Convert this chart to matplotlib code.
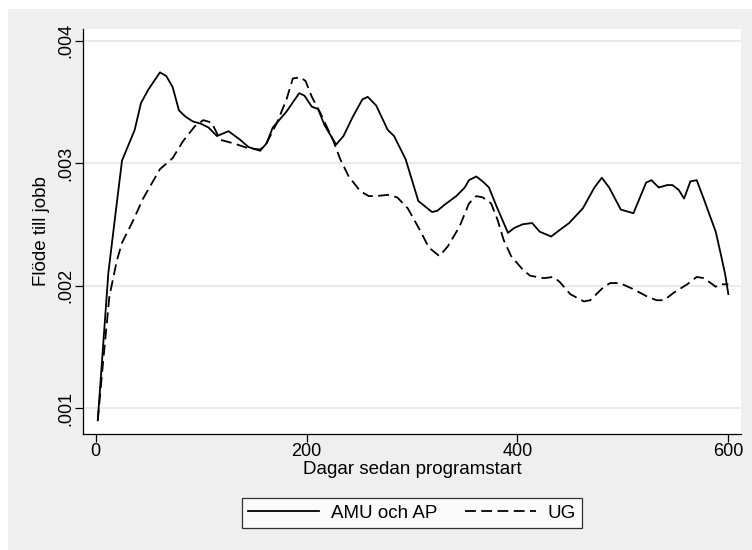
import matplotlib
matplotlib.use("Agg")
import matplotlib.pyplot as plt
from matplotlib.patches import Rectangle
from matplotlib.ticker import FixedLocator

plt.rcParams['font.family'] = ['Liberation Sans', 'DejaVu Sans']

# AMU och AP (solid)
amu_x = [2, 12, 20, 25, 37, 43, 50, 61, 67, 73, 79, 85, 92, 100, 107, 115, 126, 137,
         145, 156, 162, 168, 181, 193, 198, 205, 211, 217, 228, 235, 244, 253, 258,
         266, 277, 283, 294, 306, 319, 324, 331, 342, 350, 354, 361, 367, 373, 380,
         391, 397, 405, 414, 421, 432, 438, 449, 462, 473, 480, 487, 498, 510, 522,
         527, 534, 542, 547, 553, 558, 564, 570, 577, 588, 593, 597, 600]
amu_y = [0.00090, 0.00210, 0.00267, 0.00302, 0.00327, 0.00349, 0.00360, 0.00374,
         0.00371, 0.00362, 0.00343, 0.00338, 0.00334, 0.00332, 0.00329, 0.00322,
         0.00326, 0.00319, 0.00313, 0.00310, 0.00316, 0.00329, 0.00342, 0.00357,
         0.00355, 0.00346, 0.00344, 0.00331, 0.00315, 0.00322, 0.00338, 0.00352,
         0.00354, 0.00347, 0.00327, 0.00322, 0.00303, 0.00269, 0.00260, 0.00261,
         0.00266, 0.00273, 0.00280, 0.00286, 0.00289, 0.00285, 0.00280, 0.00265,
         0.00243, 0.00247, 0.00250, 0.00251, 0.00244, 0.00240, 0.00244, 0.00251,
         0.00263, 0.00280, 0.00288, 0.00280, 0.00262, 0.00259, 0.00284, 0.00286,
         0.00280, 0.00282, 0.00282, 0.00278, 0.00271, 0.00285, 0.00286, 0.00270,
         0.00244, 0.00225, 0.00209, 0.00193]

# UG (dashed)
ug_x = [2, 7, 13, 20, 25, 35, 45, 61, 73, 83, 94, 102, 110, 118, 131, 145, 156, 162,
        172, 181, 187, 194, 199, 205, 213, 225, 232, 240, 251, 259, 266, 277, 286,
        296, 307, 316, 326, 334, 345, 354, 361, 367, 375, 381, 387, 394, 405, 412,
        425, 434, 440, 450, 463, 469, 482, 488, 497, 510, 523, 532, 539, 548, 561,
        570, 577, 588, 592, 600]
ug_y = [0.00090, 0.00137, 0.00191, 0.00220, 0.00235, 0.00252, 0.00271, 0.00295,
        0.00304, 0.00318, 0.00330, 0.00335, 0.00333, 0.00319, 0.00316, 0.00312,
        0.00311, 0.00316, 0.00333, 0.00352, 0.00369, 0.00370, 0.00367, 0.00354,
        0.00341, 0.00319, 0.00303, 0.00289, 0.00277, 0.00273, 0.00273, 0.00274,
        0.00272, 0.00263, 0.00246, 0.00231, 0.00224, 0.00232, 0.00248, 0.00267,
        0.00273, 0.00272, 0.00267, 0.00254, 0.00237, 0.00224, 0.00213, 0.00208,
        0.00206, 0.00207, 0.00203, 0.00193, 0.00187, 0.00188, 0.00199, 0.00202,
        0.00202, 0.00197, 0.00191, 0.00188, 0.00188, 0.00194, 0.00201, 0.00207,
        0.00206, 0.00199, 0.00201, 0.00201]

x_ticks = [0, 200, 400, 600]
y_ticks = [0.001, 0.002, 0.003, 0.004]
y_labels = [".001", ".002", ".003", ".004"]

W, H = 752, 550
fig = plt.figure(figsize=(W / 100, H / 100), dpi=100)
fig.patch.set_facecolor("white")
fig.patches.append(Rectangle((8 / W, 0), 1, 1 - 9 / H, transform=fig.transFigure,
                             facecolor="#efefef", edgecolor="none", zorder=-10))

ax = fig.add_axes([83 / W, 1 - 434 / H, 658 / W, 405 / H])
ax.set_facecolor("white")

ax.plot(amu_x, amu_y, color="black", lw=1.3, label="AMU och AP")
ax.plot(ug_x, ug_y, color="black", lw=1.3, dashes=(6, 3), label="UG")

ax.set_xlim(-12, 612)
ax.set_ylim(0.000788, 0.004094)
ax.xaxis.set_major_locator(FixedLocator(x_ticks))
ax.set_yticks(y_ticks)
ax.set_yticklabels(y_labels, rotation=90, va="center")
ax.grid(axis="y", color="#e6e6e6", lw=1.2)
ax.set_axisbelow(True)

for s in ["top", "right"]:
    ax.spines[s].set_visible(False)
for s in ["left", "bottom"]:
    ax.spines[s].set_linewidth(0.9)
ax.tick_params(direction="out", length=5.5, width=0.9, labelsize=13, pad=1)

ax.set_xlabel("Dagar sedan programstart", fontsize=13.5, labelpad=1)
ax.set_ylabel("Flöde till jobb", fontsize=13.5, labelpad=5)

leg = fig.legend(loc="center", bbox_to_anchor=(412 / W, 1 - 513 / H), ncol=2,
                 fontsize=13.5, frameon=True, fancybox=False, edgecolor="black",
                 handlelength=3.8, handletextpad=0.6, columnspacing=1.5,
                 borderpad=0.35)
leg.get_frame().set_linewidth(0.9)

fig.savefig("out.png", dpi=100)
